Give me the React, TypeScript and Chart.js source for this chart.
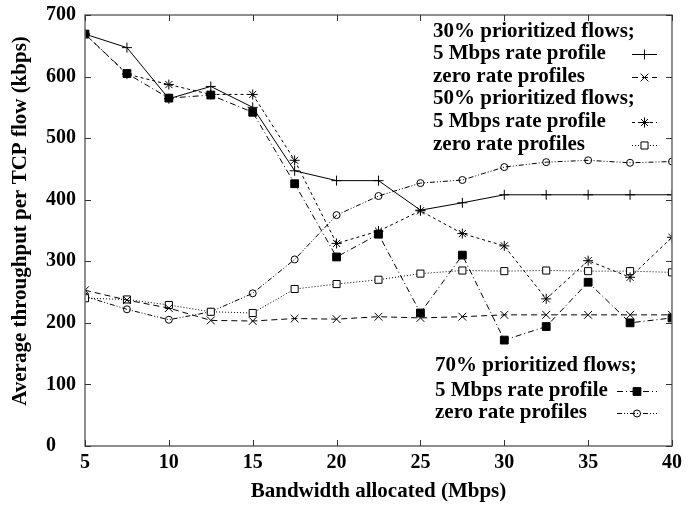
import { useEffect, useRef } from 'react';
import { Chart, registerables } from 'chart.js';
import { drawPoint } from 'chart.js/helpers';

Chart.register(...registerables);

const bandwidth = [5, 7.5, 10, 12.5, 15, 17.5, 20, 22.5, 25, 27.5, 30, 32.5, 35, 37.5, 40];
const p30Rate5 = [669, 647, 564, 584, 550, 447, 431, 431, 383, 395, 408, 408, 408, 408, 408];
const p30Zero = [253, 237, 224, 204, 203, 207, 206, 210, 208, 210, 213, 213, 213, 213, 213];
const p50Rate5 = [669, 604, 587, 571, 571, 464, 329, 349, 382, 345, 325, 239, 301, 274, 339];
const p50Zero = [240, 238, 229, 218, 216, 255, 263, 270, 280, 285, 284, 285, 284, 284, 282];
const p70Rate5 = [669, 605, 565, 570, 542, 426, 307, 344, 216, 310, 172, 194, 266, 200, 208];
const p70Zero = [243, 222, 205, 218, 248, 303, 375, 406, 427, 432, 453, 461, 464, 460, 462];

const xTickValues = [5, 10, 15, 20, 25, 30, 35, 40];
const yTickValues = [0, 100, 200, 300, 400, 500, 600, 700];

const xTitle = 'Bandwidth allocated (Mbps)';
const yTitle = 'Average throughput per TCP flow (kbps)';

const legendTop = [
  { text: '30% prioritized flows;', ds: -1 },
  { text: '5 Mbps rate profile', ds: 0 },
  { text: 'zero rate profiles', ds: 1 },
  { text: '50% prioritized flows;', ds: -1 },
  { text: '5 Mbps rate profile', ds: 2 },
  { text: 'zero rate profiles', ds: 3 },
];
const legendBottom = [
  { text: '70% prioritized flows;', ds: -1 },
  { text: '5 Mbps rate profile', ds: 4 },
  { text: 'zero rate profiles', ds: 5 },
];

const FONT = '"Liberation Serif", "Times New Roman", serif';

function pts(vals: number[]) {
  return vals.map((v, i) => ({ x: bandwidth[i], y: v }));
}

const decorPlugin = {
  id: 'decor',
  afterDatasetsDraw(chart: any) {
    const ctx = chart.ctx as CanvasRenderingContext2D;
    const { left, right, top, bottom } = chart.chartArea;
    const xs = chart.scales.x;
    const ys = chart.scales.y;
    ctx.save();
    // frame
    ctx.strokeStyle = '#6a6a6a';
    ctx.lineWidth = 1.5;
    ctx.strokeRect(left, top, right - left, bottom - top);
    // inward ticks
    ctx.strokeStyle = '#333';
    ctx.lineWidth = 1;
    const tl = 6;
    ctx.beginPath();
    xTickValues.forEach((v) => {
      const px = Math.round(xs.getPixelForValue(v)) + 0.5;
      ctx.moveTo(px, bottom);
      ctx.lineTo(px, bottom - tl);
      ctx.moveTo(px, top);
      ctx.lineTo(px, top + tl);
    });
    yTickValues.forEach((v) => {
      const py = Math.round(ys.getPixelForValue(v)) + 0.5;
      ctx.moveTo(left, py);
      ctx.lineTo(left + tl, py);
      ctx.moveTo(right, py);
      ctx.lineTo(right - tl, py);
    });
    ctx.stroke();

    // y title
    ctx.fillStyle = '#000';
    ctx.font = 'bold 21px ' + FONT;
    ctx.textAlign = 'center';
    ctx.textBaseline = 'middle';
    ctx.save();
    ctx.translate(21, 221);
    ctx.rotate(-Math.PI / 2);
    ctx.fillText(yTitle, 0, 0);
    ctx.restore();

    // legends
    const drawBlock = (items: any[], textX: number, rowYs: number[], s0: number, s1: number) => {
      items.forEach((it, i) => {
        const y = rowYs[i];
        ctx.fillStyle = '#000';
        ctx.font = 'bold 21px ' + FONT;
        ctx.textAlign = 'left';
        ctx.textBaseline = 'middle';
        ctx.fillText(it.text, textX, y);
        if (it.ds >= 0) {
          const ds = chart.data.datasets[it.ds];
          ctx.save();
          ctx.strokeStyle = '#000';
          ctx.lineWidth = 1;
          ctx.setLineDash(ds.borderDash || []);
          ctx.beginPath();
          ctx.moveTo(s0, y + 0.5);
          ctx.lineTo(s1, y + 0.5);
          ctx.stroke();
          ctx.setLineDash([]);
          ctx.fillStyle = ds.pointBackgroundColor;
          ctx.strokeStyle = '#000';
          ctx.lineWidth = 1;
          drawPoint(ctx, { pointStyle: ds.pointStyle, radius: ds.pointRadius, rotation: 0, borderWidth: 1 } as any, (s0 + s1) / 2, y + 0.5);
          ctx.restore();
        }
      });
    };
    drawBlock(legendTop, 433, [32, 54, 77, 99, 122, 145], 632, 657);
    drawBlock(legendBottom, 435, [366, 391, 413], 617, 657);
    ctx.restore();
  },
};

export default function App() {
  const ref = useRef<HTMLCanvasElement | null>(null);
  useEffect(() => {
    if (!ref.current) return;
    const common = { borderColor: '#000', borderWidth: 1, pointBorderColor: '#000', pointBorderWidth: 1, tension: 0, fill: false };
    const chart = new Chart(ref.current, {
      type: 'line',
      data: {
        datasets: [
          { ...common, label: '30% 5 Mbps rate profile', data: pts(p30Rate5), borderDash: [], pointStyle: 'cross', pointRadius: 5, pointBackgroundColor: '#000' },
          { ...common, label: '30% zero rate profiles', data: pts(p30Zero), borderDash: [6, 4], pointStyle: 'crossRot', pointRadius: 5.5, pointBackgroundColor: '#000' },
          { ...common, label: '50% 5 Mbps rate profile', data: pts(p50Rate5), borderDash: [3, 3], pointStyle: 'star', pointRadius: 5, pointBackgroundColor: '#000' },
          { ...common, label: '50% zero rate profiles', data: pts(p50Zero), borderDash: [1, 2], pointStyle: 'rect', pointRadius: 5, pointBackgroundColor: '#fff' },
          { ...common, label: '70% 5 Mbps rate profile', data: pts(p70Rate5), borderDash: [6, 3, 1, 3], pointStyle: 'rect', pointRadius: 5.5, pointBackgroundColor: '#000' },
          { ...common, label: '70% zero rate profiles', data: pts(p70Zero), borderDash: [5, 2, 1, 2, 1, 2], pointStyle: 'circle', pointRadius: 3.5, pointBackgroundColor: 'rgba(0,0,0,0)' },
        ] as any,
      },
      options: {
        animation: false,
        responsive: false,
        layout: { padding: { left: 46, top: 12, right: 19, bottom: 0 } },
        plugins: { legend: { display: false }, tooltip: { enabled: false } },
        scales: {
          x: {
            type: 'linear',
            min: 5,
            max: 40,
            afterFit: (s: any) => { s.height = 60; },
            afterBuildTicks: (s: any) => { s.ticks = xTickValues.map((v) => ({ value: v })); },
            grid: { display: false, drawTicks: false },
            border: { display: false },
            ticks: { color: '#000', font: { family: FONT, size: 20, weight: 'bold' }, padding: 5, maxRotation: 0 },
            title: { display: true, text: xTitle, color: '#000', font: { family: FONT, size: 21, weight: 'bold' }, padding: { top: 0, bottom: 2 } },
          },
          y: {
            type: 'linear',
            min: 0,
            max: 700,
            afterFit: (s: any) => { s.width = 39; },
            afterBuildTicks: (s: any) => { s.ticks = yTickValues.map((v) => ({ value: v })); },
            grid: { display: false, drawTicks: false },
            border: { display: false },
            ticks: { color: '#000', font: { family: FONT, size: 20, weight: 'bold' }, crossAlign: 'far' },
          },
        },
      } as any,
      plugins: [decorPlugin],
    });
    return () => chart.destroy();
  }, []);
  return (
    <div style={{ position: 'absolute', left: 0, top: 0, width: 691, height: 506, background: '#fff' }}>
      <canvas ref={ref} width={691} height={506} style={{ display: 'block' }} />
    </div>
  );
}
